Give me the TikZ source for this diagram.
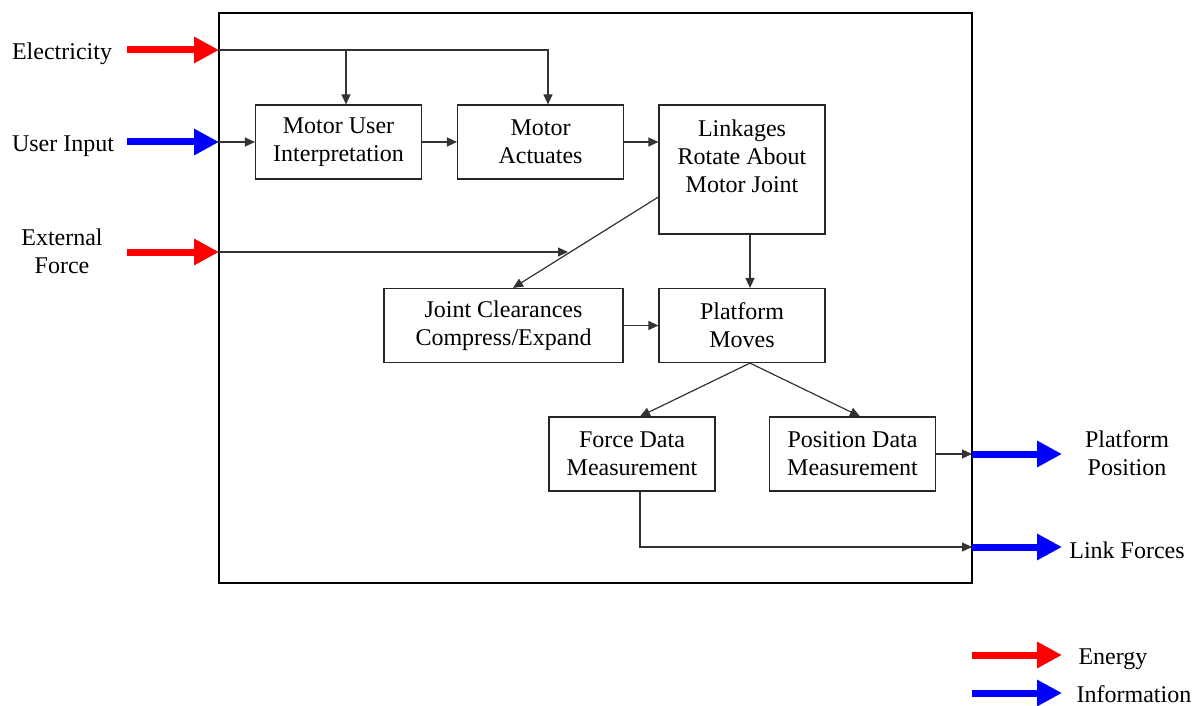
\documentclass[tikz,border=0pt]{standalone}
\usepackage{fontspec}
\setmainfont{Liberation Serif}
\usetikzlibrary{arrows.meta, positioning, calc}
\tikzstyle{block}=[draw=black!85, line width=1.2pt, align=center, inner sep=0pt, minimum width=166pt, minimum height=74pt]
\tikzstyle{label}=[align=center, inner sep=0pt]
\tikzstyle{arrow}=[-{Triangle[length=10pt,width=9pt]}, draw=black!80, line width=1.2pt]
\tikzstyle{line}=[draw=black!80, line width=1.2pt]
\tikzstyle{energy}=[-{Triangle[length=25pt,width=25pt]}, draw=red, line width=7pt]
\tikzstyle{info}=[-{Triangle[length=25pt,width=25pt]}, draw=blue, line width=7pt]

\begin{document}
\begin{tikzpicture}[x=1pt, y=-1pt, font=\fontsize{24}{28}\selectfont]
      \useasboundingbox (0,0) rectangle (1203,706);

      \node[draw=black, line width=1.2pt, minimum width=753pt, minimum height=570pt, inner sep=0pt] (system) at (595.5,298) {};

      % function blocks
      \node[block] (interpret) at (338.5,142) {Motor User\\Interpretation};
      \node[block] (actuate) at (540.5,142) {Motor\\Actuates};
      \node[block, minimum height=129pt] (linkages) at (742,169.5) {};
      \node[label] (linkagesText) at (742,156) {Linkages\\Rotate About\\Motor Joint};
      \node[block, minimum width=239pt] (clearance) at (503.5,325.5) {Joint Clearances\\Compress/Expand};
      \node[block] (platform) at (742,325.5) {Platform\\Moves};
      \node[block] (forceData) at (632,454) {Force Data\\Measurement};
      \node[block] (positionData) at (852.5,454) {Position Data\\Measurement};

      % inputs and outputs
      \coordinate (elecOut) at (127,50);
      \coordinate (elecIn) at (219,50);
      \coordinate (userOut) at (127,142);
      \coordinate (userIn) at (219,142);
      \coordinate (extOut) at (127,252);
      \coordinate (extIn) at (219,252);
      \coordinate (extEnd) at (568,252);
      \coordinate (posIn) at (972,454);
      \coordinate (posOut) at (1062,454);
      \coordinate (forceIn) at (972,547);
      \coordinate (forceOut) at (1062,547);
      \node[label] (elecLabel) at (62,54) {Electricity};
      \node[label] (userLabel) at (63,146) {User Input};
      \node[label] (extLabel) at (62,251) {External\\Force};
      \node[label] (posLabel) at (1127,453) {Platform\\Position};
      \node[label] (forceLabel) at (1127,550) {Link Forces};

      % legend
      \coordinate (energyA) at (972,655);
      \coordinate (energyB) at (1062,655);
      \coordinate (infoA) at (972,693);
      \coordinate (infoB) at (1062,693);
      \node[label] (energyLabel) at (1113,659) {Energy};
      \node[label] (infoLabel) at (1134,694) {Information};

      \draw[energy] (elecOut) -- (elecIn);
      \draw[info] (userOut) -- (userIn);
      \draw[energy] (extOut) -- (extIn);
      \draw[info] (posIn) -- (posOut);
      \draw[info] (forceIn) -- (forceOut);
      \draw[energy] (energyA) -- (energyB);
      \draw[info] (infoA) -- (infoB);

      \draw[arrow] (elecIn) -| ([xshift=7.5pt]actuate.north);
      \draw[arrow] ([xshift=7.5pt]interpret.north |- elecIn) -- ([xshift=7.5pt]interpret.north);
      \draw[arrow] (userIn) -- (interpret.west);
      \draw[arrow] (interpret) -- (actuate);
      \draw[arrow] (actuate.east) -- (actuate.east -| linkages.west);
      \draw[arrow] (extIn) -- (extEnd);
      \draw[arrow] ([yshift=-27.5pt]linkages.west) -- ([xshift=9.5pt]clearance.north);
      \draw[arrow] ([xshift=8pt]linkages.south) -- ([xshift=8pt]platform.north);
      \draw[arrow] (clearance) -- (platform);
      \draw[arrow] ([xshift=8pt]platform.south) -- ([xshift=8pt]forceData.north);
      \draw[arrow] ([xshift=8pt]platform.south) -- ([xshift=7.5pt]positionData.north);
      \draw[arrow] (positionData.east) -- (posIn);
      \draw[arrow] ([xshift=8pt]forceData.south) |- (forceIn);

    \end{tikzpicture}
\end{document}
